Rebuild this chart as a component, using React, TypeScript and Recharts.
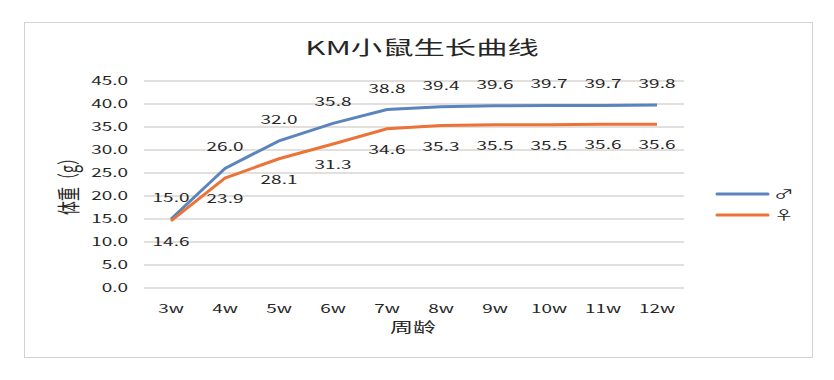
import { LineChart, Line, XAxis, YAxis, CartesianGrid, LabelList } from "recharts"

const semanas = ["3w", "4w", "5w", "6w", "7w", "8w", "9w", "10w", "11w", "12w"]
const machos = [15.0, 26.0, 32.0, 35.8, 38.8, 39.4, 39.6, 39.7, 39.7, 39.8]
const femeas = [14.6, 23.9, 28.1, 31.3, 34.6, 35.3, 35.5, 35.5, 35.6, 35.6]
const yTicks = [0, 5, 10, 15, 20, 25, 30, 35, 40, 45]

const dados = semanas.map((s, i) => ({ semana: s, macho: machos[i], femea: femeas[i] }))

// the reference is stretched sideways, so text gets a horizontal scale
const SX = 1.65
const FONTE = '"Noto Sans CJK SC", "Noto Sans", sans-serif'
const AZUL = "#5B84BF"
const LARANJA = "#EB7337"
const TEXTO = "#262626"

function Txt({ x, y, size, children, anchor = "middle" }: any) {
  return (
    <text
      transform={`translate(${x},${y}) scale(${SX},1)`}
      textAnchor={anchor}
      fontSize={size}
      fontFamily={FONTE}
      fill={TEXTO}
    >
      {children}
    </text>
  )
}

function TickY({ x, y, payload }: any) {
  return <Txt x={x} y={y + 4} size={11.5} anchor="end">{payload.value.toFixed(1)}</Txt>
}

function TickX({ x, y, payload }: any) {
  return <Txt x={x} y={y + 23} size={11.5}>{payload.value}</Txt>
}

const rotulo = (dy: number) => (props: any) => {
  const { x, y, value } = props
  return <Txt x={x} y={y + dy} size={11.5}>{Number(value).toFixed(1)}</Txt>
}

export default function App() {
  return (
    <div style={{ position: "absolute", left: 0, top: 0, width: 834, height: 380, background: "#fff" }}>
      <div
        style={{
          position: "absolute",
          left: 24,
          top: 22,
          width: 787,
          height: 334,
          border: "1.5px solid #d6d1cd",
        }}
      />
      <LineChart width={834} height={380} data={dados} margin={{ top: 81, right: 150, bottom: 62, left: 84 }}>
        <CartesianGrid vertical={false} stroke="#d9d5d1" strokeWidth={1.5} />
        <XAxis
          dataKey="semana"
          axisLine={false}
          tickLine={false}
          tickSize={0}
          tick={<TickX />}
          interval={0}
          padding={{ left: 27, right: 27 }}
        />
        <YAxis
          domain={[0, 45]}
          ticks={yTicks}
          width={60}
          axisLine={false}
          tickLine={false}
          tickSize={6}
          tickMargin={10}
          tick={<TickY />}
          interval={0}
        />
        <Line type="linear" dataKey="macho" stroke={AZUL} strokeWidth={3} dot={false} isAnimationActive={false}>
          <LabelList dataKey="macho" content={rotulo(-17)} />
        </Line>
        <Line type="linear" dataKey="femea" stroke={LARANJA} strokeWidth={3} dot={false} isAnimationActive={false}>
          <LabelList dataKey="femea" content={rotulo(25)} />
        </Line>
      </LineChart>
      <svg width={834} height={380} style={{ position: "absolute", left: 0, top: 0, pointerEvents: "none" }}>
        <Txt x={422} y={55} size={19}>KM小鼠生长曲线</Txt>
        <text
          transform={`translate(67,183) scale(${SX},1) rotate(-90)`}
          textAnchor="middle"
          dominantBaseline="central"
          fontSize={14}
          fontFamily={FONTE}
          fill={TEXTO}
        >
          体重（g）
        </text>
        <Txt x={413} y={332} size={14}>周龄</Txt>
        {/* legend */}
        <line x1={717} y1={194} x2={768} y2={194} stroke={AZUL} strokeWidth={3} strokeLinecap="round" />
        <line x1={717} y1={215} x2={768} y2={215} stroke={LARANJA} strokeWidth={3} strokeLinecap="round" />
        <Txt x={784} y={199} size={12}>♂</Txt>
        <Txt x={784} y={220} size={12}>♀</Txt>
      </svg>
    </div>
  )
}
